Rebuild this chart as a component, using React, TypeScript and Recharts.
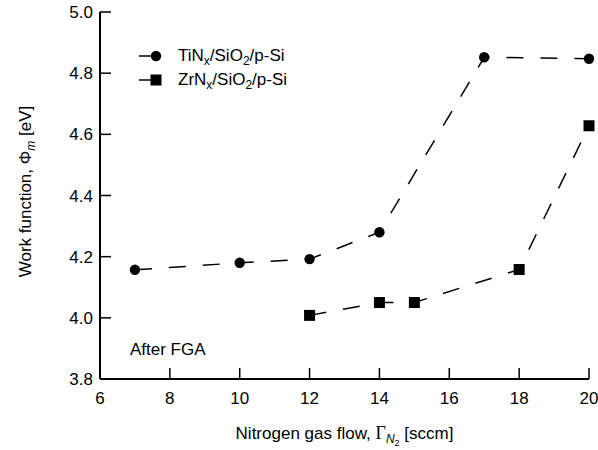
import { LineChart, Line, XAxis, YAxis, Legend } from "recharts"

// N2 gas flow [sccm] vs work function [eV]
const tinFlow = [7, 10, 12, 14, 17, 20]
const tinPhi = [4.157, 4.18, 4.192, 4.28, 4.852, 4.847]
const zrnFlow = [12, 14, 15, 18, 20]
const zrnPhi = [4.008, 4.05, 4.05, 4.158, 4.628]

const xTicks = [6, 8, 10, 12, 14, 16, 18, 20]
const yTicks = [3.8, 4.0, 4.2, 4.4, 4.6, 4.8, 5.0]

const tinData = tinFlow.map((f, i) => ({ flow: f, phi: tinPhi[i] }))
const zrnData = zrnFlow.map((f, i) => ({ flow: f, phi: zrnPhi[i] }))

const FONT = '"Liberation Sans", Arial, Helvetica, sans-serif'
const FS = 17
const TICK = 11
const AXIS = { stroke: "#000", strokeWidth: 2 }

const BottomTick = (props: any) => {
  const { x, y, payload } = props
  return (
    <g>
      <line x1={x} y1={y} x2={x} y2={y - TICK} stroke="#000" strokeWidth={1.5} />
      <text x={x} y={y + 25} textAnchor="middle" fontSize={FS} fontFamily={FONT} fill="#000">
        {payload.value}
      </text>
    </g>
  )
}

const TopTick = (props: any) => {
  const { x, y } = props
  return <line x1={x} y1={y} x2={x} y2={y + TICK} stroke="#000" strokeWidth={1.5} />
}

const LeftTick = (props: any) => {
  const { x, y, payload } = props
  return (
    <g>
      <line x1={x} y1={y} x2={x + TICK} y2={y} stroke="#000" strokeWidth={1.5} />
      <text x={x - 7} y={y + 6} textAnchor="end" fontSize={FS} fontFamily={FONT} fill="#000">
        {payload.value.toFixed(1)}
      </text>
    </g>
  )
}

const RightTick = (props: any) => {
  const { x, y } = props
  return <line x1={x - TICK} y1={y} x2={x} y2={y} stroke="#000" strokeWidth={1.5} />
}

const XTitle = (props: any) => {
  const { viewBox } = props
  const cx = viewBox.x + viewBox.width / 2
  return (
    <text x={cx} y={viewBox.y + 60} textAnchor="middle" fontSize={FS} fontFamily={FONT} fill="#000">
      Nitrogen gas flow,{" "}
      <tspan fontFamily='"Liberation Serif", "Times New Roman", serif' fontSize={18}>Γ</tspan>
      <tspan fontStyle="italic" fontSize={12} dy={4}>N</tspan>
      <tspan fontSize={9} dy={3}>2</tspan>
      <tspan dy={-7}> [sccm]</tspan>
    </text>
  )
}

const YTitle = (props: any) => {
  const { viewBox } = props
  const cx = 31
  const cy = viewBox.y + viewBox.height / 2 - 4
  return (
    <text x={cx} y={cy} transform={`rotate(-90, ${cx}, ${cy})`} textAnchor="middle" fontSize={FS} fontFamily={FONT} fill="#000">
      Work function, Φ
      <tspan fontStyle="italic" fontSize={12} dy={4}>m</tspan>
      <tspan dy={-4}> [eV]</tspan>
    </text>
  )
}

const CircleDot = (p: any) => <circle key={`c${p.index}`} cx={p.cx} cy={p.cy} r={5.2} fill="#000" />
const SquareDot = (p: any) => <rect key={`s${p.index}`} x={p.cx - 5.5} y={p.cy - 5.5} width={11} height={11} fill="#000" />

const legendItems = [
  { metal: "Ti", shape: "circle" },
  { metal: "Zr", shape: "square" },
]

const subStyle = { fontSize: 12, verticalAlign: "-4px", lineHeight: 0 }

const LegendBox = () => (
  <div style={{ fontFamily: FONT, fontSize: FS, color: "#000" }}>
    {legendItems.map((it) => (
      <div key={it.metal} style={{ display: "flex", alignItems: "center", height: 24 }}>
        <svg width={39} height={24}>
          <line x1={0} y1={12} x2={13} y2={12} stroke="#000" strokeWidth={1.5} />
          {it.shape === "circle" ? (
            <circle cx={17} cy={12} r={5.2} fill="#000" />
          ) : (
            <rect x={11.5} y={6.5} width={11} height={11} fill="#000" />
          )}
        </svg>
        <span style={{ whiteSpace: "nowrap" }}>
          {it.metal}N<sub style={subStyle}>x</sub>/SiO<sub style={subStyle}>2</sub>/p-Si
        </span>
      </div>
    ))}
  </div>
)

export default function App() {
  return (
    <div style={{ position: "relative", width: 598, height: 450, background: "#fff" }}>
      <style>{`body{margin:0}`}</style>
      <LineChart width={598} height={450} margin={{ top: 12, right: 9, bottom: 0, left: 0 }}>
        <XAxis
          dataKey="flow"
          type="number"
          domain={[6, 20]}
          ticks={xTicks}
          interval={0}
          height={71}
          tickSize={0}
          tickMargin={0}
          tick={<BottomTick />}
          axisLine={AXIS}
          label={<XTitle />}
        />
        <XAxis
          xAxisId="top"
          orientation="top"
          type="number"
          domain={[6, 20]}
          ticks={xTicks}
          interval={0}
          height={0}
          tickSize={0}
          tickMargin={0}
          tick={<TopTick />}
          axisLine={AXIS}
        />
        <YAxis
          type="number"
          domain={[3.8, 5.0]}
          ticks={yTicks}
          interval={0}
          width={100}
          tickSize={0}
          tickMargin={0}
          tick={<LeftTick />}
          axisLine={AXIS}
          label={<YTitle />}
        />
        <YAxis
          yAxisId="right"
          orientation="right"
          type="number"
          domain={[3.8, 5.0]}
          ticks={yTicks}
          interval={0}
          width={0}
          tickSize={0}
          tickMargin={0}
          tick={<RightTick />}
          axisLine={AXIS}
        />
        <Legend
          layout="vertical"
          align="center"
          verticalAlign="middle"
          content={<LegendBox />}
          wrapperStyle={{ left: 139, top: 44, width: 220 }}
        />
        <Line
          data={tinData}
          dataKey="phi"
          name="TiNx/SiO2/p-Si"
          type="linear"
          stroke="#000"
          strokeWidth={1.5}
          strokeDasharray="17 17"
          dot={CircleDot}
          activeDot={false}
          isAnimationActive={false}
        />
        <Line
          data={zrnData}
          dataKey="phi"
          name="ZrNx/SiO2/p-Si"
          type="linear"
          stroke="#000"
          strokeWidth={1.5}
          strokeDasharray="17 17"
          dot={SquareDot}
          activeDot={false}
          isAnimationActive={false}
        />
      </LineChart>
      <div
        style={{
          position: "absolute",
          left: 130,
          top: 340.5,
          fontFamily: FONT,
          fontSize: FS,
          lineHeight: "17px",
          color: "#000",
        }}
      >
        After FGA
      </div>
    </div>
  )
}
